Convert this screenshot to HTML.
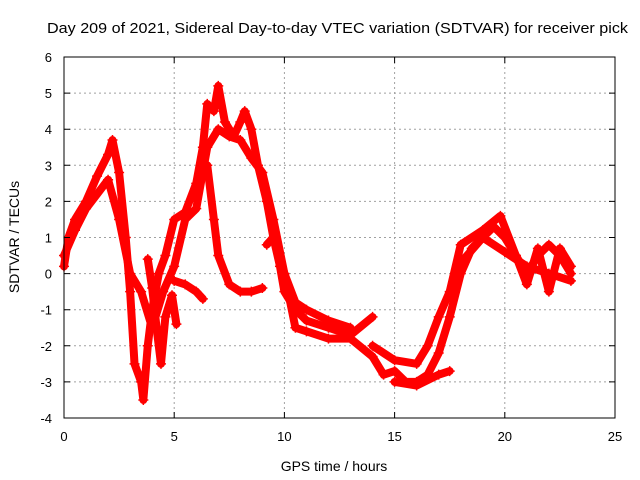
<!DOCTYPE html>
<html><head><meta charset="utf-8"><style>
html,body{margin:0;padding:0;background:#fff;overflow:hidden;}
svg{display:block;font-family:"Liberation Sans",sans-serif;}
</style></head><body>
<svg id="chart" width="640" height="480" viewBox="0 0 640 480">
<text x="47" y="33" font-size="15" textLength="581" lengthAdjust="spacingAndGlyphs" fill="#000">Day 209 of 2021, Sidereal Day-to-day VTEC variation (SDTVAR) for receiver pick</text>
<g id="grid"></g><g id="series"></g>
<rect x="64" y="57" width="551" height="361" fill="none" stroke="#000" stroke-width="1"/>
<g id="ticks"></g>
<text x="334" y="471" font-size="14" text-anchor="middle">GPS time / hours</text>
<text transform="translate(19,237) rotate(-90)" font-size="14" text-anchor="middle">SDTVAR / TECUs</text>
</svg>
<script>
const xTicks=[0,5,10,15,20,25];
const yTicks=[-4,-3,-2,-1,0,1,2,3,4,5,6];
const trackA_t=[0,0.2,0.5,1,1.5,2,2.2,2.5,2.8,3,3.2,3.5,3.6,3.8,4,4.3,4.6,5,5.5,6,6.3,6.5,6.8,7,7.3,7.7,8,8.2,8.5,8.8,9.2,9.5,9.8,10,10.5,11,12,13,14];
const trackA_v=[0.2,1,1.5,2,2.7,3.3,3.7,2.8,1,-0.5,-2.5,-3,-3.5,-2,-1,0,0.5,1.5,1.7,2.5,3.5,4.7,4.5,5.2,4.2,3.8,4.2,4.5,4,3,2,1,0.2,-0.5,-1,-1.3,-1.5,-1.7,-1.2];
const trackB_t=[0,0.5,1,2,2.5,3,3.5,4,4.5,5,5.5,6,6.5,7,7.5,8,8.5,9,9.5,10,10.5,11,12,13,14];
const trackB_v=[0.5,1.2,1.8,2.6,1.5,0,-0.5,-1.5,-0.5,0.2,1.5,1.8,3.5,4,3.8,3.7,3.2,2.8,1.5,0,-1.5,-1.6,-1.8,-1.8,-2.3];
const trackC_t=[6.5,6.8,7,7.5,8,8.5,9];
const trackC_v=[3,1.5,0.5,-0.3,-0.5,-0.5,-0.4];
const trackD_t=[5,5.5,6,6.3];
const trackD_v=[-0.2,-0.3,-0.5,-0.7];
const trackE_t=[9.2,9.5,10,10.5,11,12,13];
const trackE_v=[0.8,1,0,-0.8,-1,-1.3,-1.5];
const trackF_t=[14,14.5,15,15.5,16,16.5,17,17.5,18,18.5,19,19.5,20,20.5,21,21.5,22,22.5,23];
const trackF_v=[-2.3,-2.8,-2.7,-3,-3,-2.8,-2.2,-1.2,0,0.7,1,1.3,1,0.5,0,0.5,0.8,0.5,0];
const trackG_t=[14,15,16,16.5,17,17.5,18,19,19.8,20.5,21,21.5,22,22.5,23];
const trackG_v=[-2,-2.4,-2.5,-2,-1.2,-0.5,0.8,1.2,1.6,0.5,-0.3,0.7,-0.5,0.7,0.2];
const trackH_t=[15,16,17,17.5];
const trackH_v=[-3,-3.1,-2.8,-2.7];
const trackI_t=[18,19,20,21,22,23];
const trackI_v=[0.3,1,0.6,0.2,0,-0.2];
const trackJ_t=[3.8,4.0,4.2,4.4,4.6,4.9,5.1];
const trackJ_v=[0.4,-0.4,-1.5,-2.5,-1.2,-0.6,-1.4];
const tracks=[[trackA_t,trackA_v],[trackB_t,trackB_v],[trackC_t,trackC_v],[trackD_t,trackD_v],[trackE_t,trackE_v],[trackF_t,trackF_v],[trackG_t,trackG_v],[trackH_t,trackH_v],[trackI_t,trackI_v],[trackJ_t,trackJ_v]];
const NS="http://www.w3.org/2000/svg";
const X0=64,X1=615,Y0=418,Y1=57;
function xs(t){return X0+(t-0)/25*(X1-X0);}
function ys(v){return Y0-(v+4)/10*(Y0-Y1);}
const grid=document.getElementById('grid'),ticks=document.getElementById('ticks'),ser=document.getElementById('series');
function mk(tag,attrs,parent){const e=document.createElementNS(NS,tag);for(const k in attrs)e.setAttribute(k,attrs[k]);parent.appendChild(e);return e;}
xTicks.forEach(t=>{
 const x=xs(t);
 if(t>0&&t<25){const g=mk('line',{x1:x,x2:x,y1:Y1,y2:Y0,stroke:'#a0a0a0','stroke-dasharray':'2,3'},grid);
 
 }
 const tk=mk('path',{d:`M${x},${Y0}v-6M${x},${Y1}v6`,stroke:'#000'},ticks);
 
 
 const l=mk('text',{x:x,y:Y0+23,'font-size':13,'text-anchor':'middle'},ticks);l.textContent=t;
 
 
});
yTicks.forEach(v=>{
 const y=ys(v);
 if(v>-4&&v<6){const g=mk('line',{x1:X0,x2:X1,y1:y,y2:y,stroke:'#a0a0a0','stroke-dasharray':'2,3'},grid);
 
 }
 const tk=mk('path',{d:`M${X0},${y}h6M${X1},${y}h-6`,stroke:'#000'},ticks);
 
 
 const l=mk('text',{x:X0-12,y:y+5,'font-size':13,'text-anchor':'end'},ticks);l.textContent=v;
 
 
});
tracks.forEach((tr,i)=>{
 const [T,V]=tr;
 const pts=T.map((t,j)=>xs(t)+','+ys(V[j])).join(' ');
 const pl=mk('polyline',{points:pts,fill:'none',stroke:'#ff0000','stroke-width':8,'stroke-linejoin':'round','stroke-linecap':'round'},ser);
 
 
 T.forEach((t,j)=>{
  const x=xs(t),y=ys(V[j]);
  const p=mk('path',{d:`M${x-5},${y}H${x+5}M${x},${y-5}V${y+5}`,stroke:'#ff0000','stroke-width':1.5},ser);
  
  
 });
});
</script>
</body></html>
